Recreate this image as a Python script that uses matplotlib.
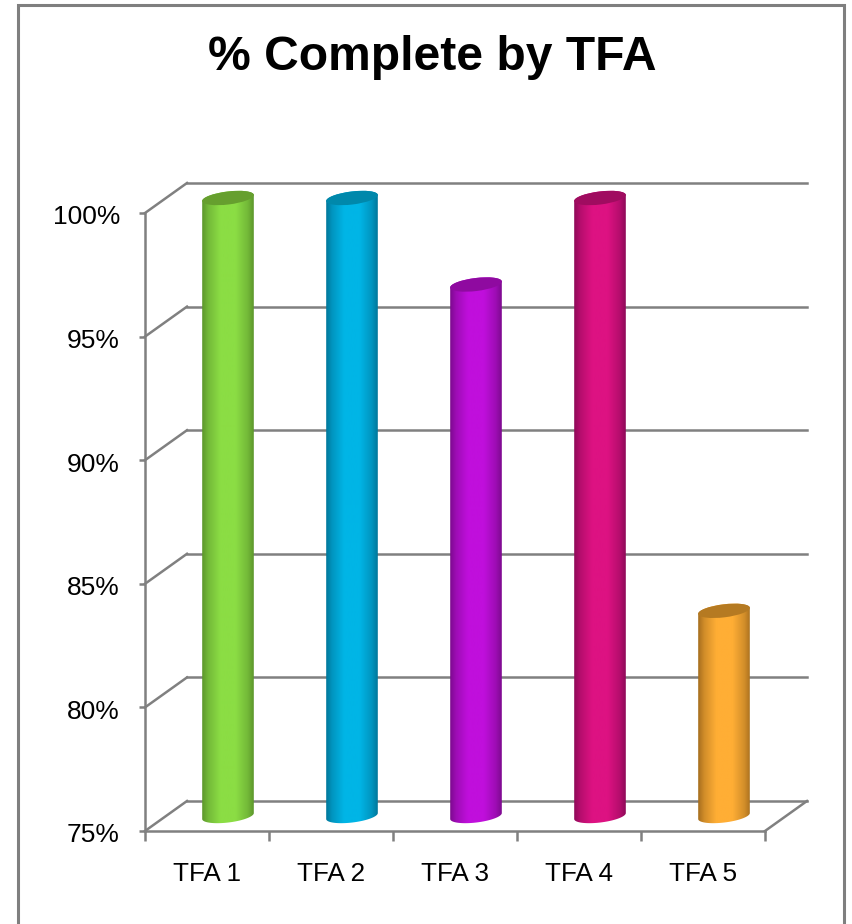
import numpy as np
import matplotlib
matplotlib.use('Agg')
import matplotlib.pyplot as plt
from matplotlib.colors import LinearSegmentedColormap, to_rgb
from matplotlib.patches import Ellipse, Rectangle
from matplotlib.path import Path
from matplotlib.transforms import IdentityTransform, Affine2D

categories = ['TFA 1', 'TFA 2', 'TFA 3', 'TFA 4', 'TFA 5']
values = [100, 100, 96.5, 100, 83.3]
y_ticks = [75, 80, 85, 90, 95, 100]
bright = ['#8BDD44', '#00B5E6', '#C00FDC', '#DD1282', '#FFAE35']
dark = ['#5C962C', '#00769A', '#7C0A8E', '#8E0958', '#A56D1E']
top = ['#669F2E', '#0088AB', '#8F0AA0', '#A00C60', '#B57A22']

plt.rcParams['font.family'] = ['Liberation Sans', 'DejaVu Sans']
line_c = '#808080'

W, H = 852, 924
fig = plt.figure(figsize=(W / 100, H / 100), dpi=100)
ax = fig.add_axes([145 / W, (H - 831) / H, 620 / W, 618 / H])
n = len(categories)

# depth of the 3d box, in data units
dx = 42 / 124
dy = 30 / (618 / 25)
bar_w = 52 / 124

# outer frame, bottom edge runs off the picture
fig.add_artist(Rectangle((18 / W, -0.05), 826 / W, 1.05 - 5 / H, transform=fig.transFigure,
                         fill=False, ec='#7F7F7F', lw=2.2))

# back wall + side wall lines
for t in y_ticks:
    ax.plot([dx, n + dx], [t + dy, t + dy], color=line_c, lw=1.8, clip_on=False, zorder=1)
    ax.plot([0, dx], [t, t + dy], color=line_c, lw=1.8, clip_on=False, zorder=1)
ax.plot([n, n + dx], [75, 75 + dy], color=line_c, lw=1.8, clip_on=False, zorder=1)

ax.set_xlim(0, n)
ax.set_ylim(75, 100)

# cylinders
a, b, tilt = 26, 6.5, np.radians(7)
th = np.linspace(np.pi, 2 * np.pi, 60)
for i, v in enumerate(values):
    xc = i + 0.5 + dx / 2
    y0 = 75 + dy / 2
    y1 = v + dy / 2
    mid = tuple((np.array(to_rgb(dark[i])) + np.array(to_rgb(bright[i]))) / 2)
    cmap = LinearSegmentedColormap.from_list('c', [(0, dark[i]), (0.12, mid), (0.35, bright[i]),
                                                   (0.65, bright[i]), (0.88, mid), (1, dark[i])])
    im = ax.imshow(np.linspace(0, 1, 256).reshape(1, -1), cmap=cmap, aspect='auto', zorder=3,
                   extent=[xc - bar_w / 2, xc + bar_w / 2, y0 - 0.5, y1 + 0.5], interpolation='bilinear')
    pb = ax.transData.transform((xc, y0))
    pt = ax.transData.transform((xc, y1))
    ex = a * np.cos(th) * np.cos(tilt) - b * np.sin(th) * np.sin(tilt)
    ey = a * np.cos(th) * np.sin(tilt) + b * np.sin(th) * np.cos(tilt)
    low = np.column_stack([pb[0] + ex, pb[1] + ey])
    up = np.column_stack([pt[0] - ex, pt[1] - ey])
    body = np.vstack([low, up, low[:1]])
    im.set_clip_box(fig.bbox)
    im.set_clip_path(Path(body), IdentityTransform())
    ax.add_patch(Ellipse(pt, 2 * a, 2 * b, angle=7, fc=top[i], ec='none', zorder=4,
                         transform=IdentityTransform(), clip_on=False))

ax.set_xlim(0, n)
ax.set_ylim(75, 100)
ax.patch.set_visible(False)
for s in ['top', 'right']:
    ax.spines[s].set_visible(False)
for s in ['left', 'bottom']:
    ax.spines[s].set_color(line_c)
    ax.spines[s].set_linewidth(1.8)
    ax.spines[s].set_zorder(1)

ax.set_yticks(y_ticks)
ax.set_yticklabels(['%d%%' % t for t in y_ticks])
ax.tick_params(axis='y', length=4.5, width=1.8, color=line_c, pad=13.5, labelsize=19, labelcolor='#000000')
# labels sit a little below their ticks in the original
for tick in ax.yaxis.get_major_ticks():
    tick.label1.set_transform(tick.label1.get_transform() + Affine2D().translate(0, -2))
ax.set_xticks(np.arange(n + 1))
ax.set_xticklabels([])
ax.set_xticks(np.arange(n) + 0.5, minor=True)
ax.set_xticklabels(categories, minor=True)
ax.tick_params(axis='x', which='major', length=7, width=1.8, color=line_c)
ax.tick_params(axis='x', which='minor', length=0, pad=22.5, labelsize=18.8, labelcolor='#000000')

fig.text(432 / W, (H - 58) / H, '% Complete by TFA', ha='center', va='center',
         fontsize=34.6, fontweight='bold', color='#000000')

fig.savefig('out.png', dpi=100)
